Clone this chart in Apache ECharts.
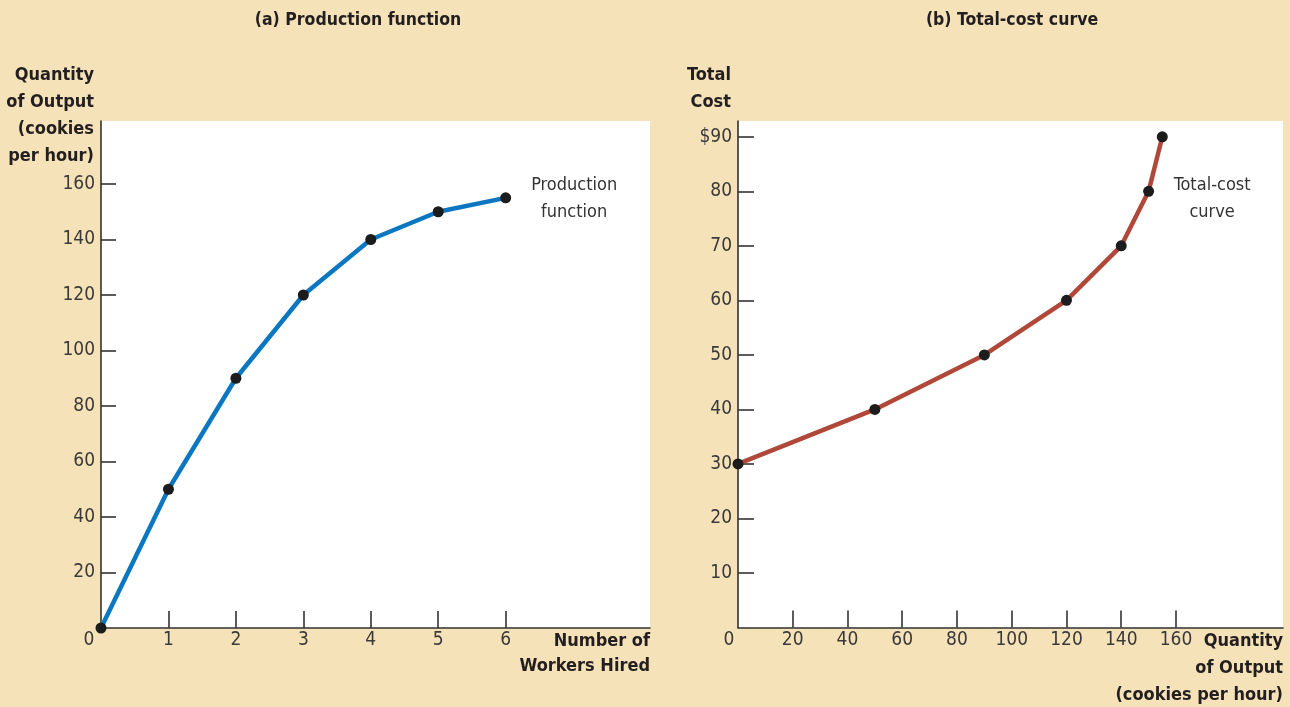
<!DOCTYPE html>
<html><head><meta charset="utf-8">
<script src="https://cdn.jsdelivr.net/npm/echarts@6/dist/echarts.min.js"></script>
<style>html,body{margin:0;padding:0;background:#F6E2B8;}#c{width:1290px;height:707px;}</style>
</head><body><div id="c"></div>
<script>
// ---- data ----
const workers = [0, 1, 2, 3, 4, 5, 6];
const output = [0, 50, 90, 120, 140, 150, 155];
const totalCost = [30, 40, 50, 60, 70, 80, 90];
const leftXTicks = [0, 1, 2, 3, 4, 5, 6];
const leftYTicks = [20, 40, 60, 80, 100, 120, 140, 160];
const rightXTicks = [0, 20, 40, 60, 80, 100, 120, 140, 160];
const rightYTicks = [10, 20, 30, 40, 50, 60, 70, 80, 90];
const titleA = '(a) Production function';
const titleB = '(b) Total-cost curve';
const leftYName = 'Quantity\nof Output\n(cookies\nper hour)';
const leftXName = 'Number of\nWorkers Hired';
const rightYName = 'Total\nCost';
const rightXName = 'Quantity\nof Output\n(cookies per hour)';
const curveA = 'Production\nfunction';
const curveB = 'Total-cost\ncurve';

const FONT = "'Liberation Sans Narrow', 'DejaVu Sans Condensed', 'Roboto', sans-serif";
const axisCol = '#333';
const labelStyle = { fontFamily: FONT, fontSize: 19, color: '#3a3a3a' };
const nameStyle = { fontFamily: FONT, fontSize: 18, fontWeight: 'bold', color: '#231f20' };

function zeroLabel(shift) {
  return {
    formatter: v => v === 0 ? '{z|0}' : String(v),
    rich: { z: { padding: [0, shift, 0, 0], fontFamily: FONT, fontSize: 19, color: '#3a3a3a' } }
  };
}

const chart = echarts.init(document.getElementById('c'));
chart.setOption({
  backgroundColor: '#F6E2B8',
  animation: false,
  title: [
    { text: titleA, left: 353, top: 6, textAlign: 'center', textStyle: Object.assign({}, nameStyle, { fontSize: 17.5 }) },
    { text: titleB, left: 1007, top: 6, textAlign: 'center', textStyle: Object.assign({}, nameStyle, { fontSize: 17.5 }) }
  ],
  grid: [
    { left: 101, top: 121, width: 549, height: 507, show: true, backgroundColor: '#fff', borderWidth: 0, outerBoundsMode: 'none', containLabel: false },
    { left: 738, top: 121, width: 545, height: 506.5, show: true, backgroundColor: '#fff', borderWidth: 0, outerBoundsMode: 'none', containLabel: false }
  ],
  xAxis: [
    {
      gridIndex: 0, type: 'value', min: 0, max: 8.14,
      splitLine: { show: false },
      axisLine: { lineStyle: { color: axisCol, width: 1.6 } },
      axisTick: { inside: true, length: 17, customValues: leftXTicks.slice(1), lineStyle: { color: axisCol, width: 1.6 } },
      axisLabel: Object.assign({}, labelStyle, zeroLabel(24), { customValues: leftXTicks, margin: 3 }),
      name: leftXName, nameLocation: 'end', nameGap: 0, nameMoveOverlap: false,
      nameTextStyle: Object.assign({}, nameStyle, { align: 'right', verticalAlign: 'top', lineHeight: 25, padding: [1, 0, 0, 0] })
    },
    {
      gridIndex: 1, type: 'value', min: 0, max: 199.1,
      splitLine: { show: false },
      axisLine: { lineStyle: { color: axisCol, width: 1.6 } },
      axisTick: { inside: true, length: 17, customValues: rightXTicks.slice(1), lineStyle: { color: axisCol, width: 1.6 } },
      axisLabel: Object.assign({}, labelStyle, zeroLabel(18), { customValues: rightXTicks, margin: 3 }),
      name: rightXName, nameLocation: 'end', nameGap: 0, nameMoveOverlap: false,
      nameTextStyle: Object.assign({}, nameStyle, { align: 'right', verticalAlign: 'top', lineHeight: 27, padding: [0, 0, 0, 0] })
    }
  ],
  yAxis: [
    {
      gridIndex: 0, type: 'value', min: 0, max: 182.7,
      splitLine: { show: false },
      axisLine: { show: true, lineStyle: { color: axisCol, width: 1.6 } },
      axisTick: { show: true, inside: true, length: 15, customValues: leftYTicks, lineStyle: { color: axisCol, width: 1.6 } },
      axisLabel: Object.assign({}, labelStyle, { customValues: leftYTicks, margin: 6 }),
      name: leftYName, nameLocation: 'end', nameGap: -49, nameMoveOverlap: false,
      nameTextStyle: Object.assign({}, nameStyle, { align: 'right', verticalAlign: 'bottom', lineHeight: 27, padding: [0, 7, 0, 0] })
    },
    {
      gridIndex: 1, type: 'value', min: 0, max: 92.9,
      splitLine: { show: false },
      axisLine: { show: true, lineStyle: { color: axisCol, width: 1.6 } },
      axisTick: { show: true, inside: true, length: 16, customValues: rightYTicks, lineStyle: { color: axisCol, width: 1.6 } },
      axisLabel: Object.assign({}, labelStyle, { customValues: rightYTicks, margin: 6, formatter: v => v === 90 ? '$' + v : String(v) }),
      name: rightYName, nameLocation: 'end', nameGap: 5, nameMoveOverlap: false,
      nameTextStyle: Object.assign({}, nameStyle, { align: 'right', verticalAlign: 'bottom', lineHeight: 27, padding: [0, 7, 0, 0] })
    }
  ],
  series: [
    {
      type: 'line', xAxisIndex: 0, yAxisIndex: 0, clip: false,
      data: workers.map((w, i) => {
        const d = { value: [w, output[i]] };
        if (i === workers.length - 1) d.label = { show: true, formatter: curveA, position: 'right', distance: 0, align: 'center', offset: [63, 1], fontFamily: FONT, fontSize: 18, lineHeight: 27, color: '#333' };
        return d;
      }),
      symbol: 'circle', symbolSize: 11,
      itemStyle: { color: '#1c1c1c' },
      lineStyle: { color: '#0B77C0', width: 4.5 },
      z: 3
    },
    {
      type: 'line', xAxisIndex: 1, yAxisIndex: 1, clip: false,
      data: output.map((q, i) => {
        const d = { value: [q, totalCost[i]] };
        if (i === 5) d.label = { show: true, formatter: curveB, position: 'right', distance: 0, align: 'center', offset: [58, 7], fontFamily: FONT, fontSize: 18, lineHeight: 27, color: '#333' };
        return d;
      }),
      symbol: 'circle', symbolSize: 11,
      itemStyle: { color: '#1c1c1c' },
      lineStyle: { color: '#B0483A', width: 4.5 },
      z: 3
    }
  ]
});
</script></body></html>
